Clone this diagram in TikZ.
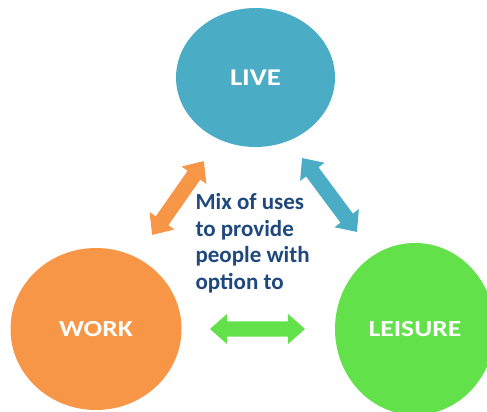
\documentclass[tikz,border=0pt]{standalone}
\usepackage{fontspec}
\setmainfont{Carlito}
\newfontfamily\circlefont[FakeStretch=1.2]{Carlito}
\usetikzlibrary{shapes.geometric, shapes.arrows}
\definecolor{liveblue}{HTML}{4BACC6}
\definecolor{workorange}{HTML}{F79646}
\definecolor{leisuregreen}{HTML}{62E14B}
\definecolor{textblue}{HTML}{1F497D}
\tikzset{
    area/.style={ellipse, inner sep=0pt, text=white, font=\circlefont\bfseries\fontsize{23}{26}\selectfont},
    link/.style={double arrow, inner xsep=0pt, inner ysep=7.5pt, double arrow head extend=7.5pt, double arrow tip angle=83}
}

\begin{document}
\begin{tikzpicture}[x=1pt, y=-1pt]
    \useasboundingbox (0, 0) rectangle (487, 412);

    \node[area, fill=liveblue, minimum width=159pt, minimum height=139pt] (live) at (255.5, 77.5) {\fontsize{24}{26}\selectfont LIVE};
    \node[area, fill=workorange, minimum width=171pt, minimum height=162pt] (work) at (96, 329) {WORK};
    \node[area, fill=leisuregreen, minimum width=160pt, minimum height=172pt] (leisure) at (415, 329) {LEISURE};

    \node[link, fill=workorange, minimum height=90pt, rotate=55] (worklive) at (178, 198) {};
    \node[link, fill=liveblue, minimum height=92pt, rotate=-53.4] (liveleisure) at (329.5, 195) {};
    \node[link, fill=leisuregreen, minimum height=95pt] (workleisure) at (257.5, 329) {};

    \node[anchor=west, align=left, text=textblue, font=\bfseries\fontsize{23}{26.5}\selectfont] (mix) at (192, 243) {Mix of uses\\to provide\\people with\\option to};

\end{tikzpicture}
\end{document}
